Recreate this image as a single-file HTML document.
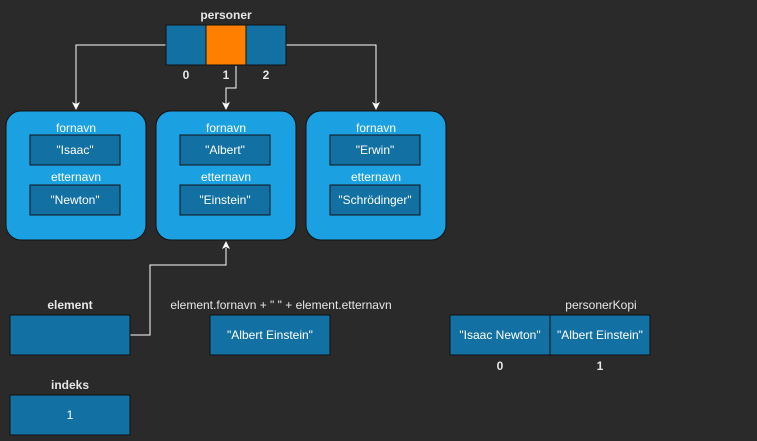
<!DOCTYPE html>
<html><head><style>html,body{margin:0;padding:0;background:#2a2a2a}svg{display:block}</style></head><body>
<svg width="757" height="441" viewBox="0 0 757 441" xmlns="http://www.w3.org/2000/svg" font-family="Liberation Sans, sans-serif" font-size="12" text-anchor="middle">
<rect width="757" height="441" fill="#2a2a2a"/>
<defs><marker id="a" markerWidth="8" markerHeight="8" refX="4" refY="7" orient="auto" markerUnits="userSpaceOnUse"><path d="M0,0 L4,7 L8,0 L4,2 Z" fill="#fff" transform="rotate(0)"/></marker></defs>
<g stroke="#fff" stroke-width="1" fill="none">
<polyline points="166,45 76,45 76,104"/>
<polyline points="236,66 236,88 226,88 226,104"/>
<polyline points="286,45 376,45 376,104"/>
<polyline points="130,335 150,335 150,265 226,265 226,248"/>
</g>
<g fill="#fff">
<path d="M72,102 L76,110 L80,102 L76,104 Z"/>
<path d="M222,102 L226,110 L230,102 L226,104 Z"/>
<path d="M372,102 L376,110 L380,102 L376,104 Z"/>
<path d="M222,249 L226,241 L230,249 L226,247 Z"/>
</g>
<text x="226" y="19" fill="#e6e6e6" font-weight="bold">personer</text>
<g stroke="#111" stroke-width="1">
<rect x="166" y="25" width="40" height="40" fill="#1270a2"/>
<rect x="206" y="25" width="40" height="40" fill="#ff8000"/>
<rect x="246" y="25" width="40" height="40" fill="#1270a2"/>
</g>
<g fill="#e6e6e6" font-weight="bold"><text x="186" y="79">0</text><text x="226" y="79">1</text><text x="266" y="79">2</text></g>
<g id="objs">
<rect x="6" y="111" width="140" height="129" rx="15" fill="#1ba1e2" stroke="#111"/>
<rect x="156" y="111" width="140" height="129" rx="15" fill="#1ba1e2" stroke="#111"/>
<rect x="306" y="111" width="140" height="129" rx="15" fill="#1ba1e2" stroke="#111"/>
<g fill="#1270a2" stroke="#111">
<rect x="30" y="135" width="90" height="30"/><rect x="30" y="185" width="90" height="30"/>
<rect x="180" y="135" width="90" height="30"/><rect x="180" y="185" width="90" height="30"/>
<rect x="330" y="135" width="90" height="30"/><rect x="330" y="185" width="90" height="30"/>
</g>
<g fill="#fff">
<text x="76" y="132">fornavn</text><text x="76" y="181">etternavn</text>
<text x="226" y="132">fornavn</text><text x="226" y="181">etternavn</text>
<text x="376" y="132">fornavn</text><text x="376" y="181">etternavn</text>
<text x="75" y="154">"Isaac"</text><text x="75" y="204">"Newton"</text>
<text x="225" y="154">"Albert"</text><text x="225" y="204">"Einstein"</text>
<text x="375" y="154">"Erwin"</text><text x="375" y="204">"Schrödinger"</text>
</g>
</g>
<g fill="#1270a2" stroke="#111">
<rect x="10" y="315" width="120" height="40"/>
<rect x="210" y="315" width="120" height="40"/>
<rect x="450" y="315" width="100" height="40"/>
<rect x="550" y="315" width="100" height="40"/>
<rect x="10" y="395" width="120" height="40"/>
</g>
<g fill="#e6e6e6">
<text x="70" y="309" font-weight="bold">element</text>
<text x="70" y="389" font-weight="bold">indeks</text>
<text x="281" y="309">element.fornavn + " " + element.etternavn</text>
<text x="601" y="309">personerKopi</text>
<text x="500" y="370" font-weight="bold">0</text>
<text x="600" y="370" font-weight="bold">1</text>
</g>
<g fill="#fff">
<text x="270" y="339">"Albert Einstein"</text>
<text x="500" y="339">"Isaac Newton"</text>
<text x="600" y="339">"Albert Einstein"</text>
<text x="70" y="419">1</text>
</g>
</svg>
</body></html>
